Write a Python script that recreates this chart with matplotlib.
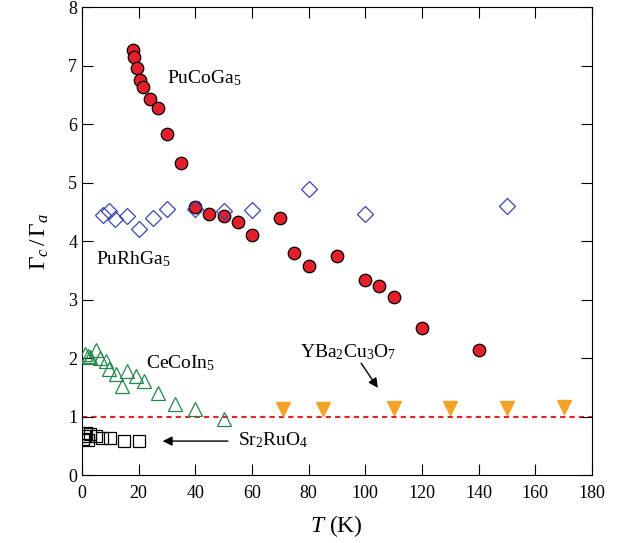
import matplotlib
matplotlib.use("Agg")
import matplotlib.pyplot as plt

plt.rcParams['font.family'] = ['Liberation Serif', 'DejaVu Serif']
plt.rcParams['mathtext.fontset'] = 'custom'
plt.rcParams['mathtext.rm'] = 'Liberation Serif'
plt.rcParams['mathtext.it'] = 'Liberation Serif:italic'

# PuCoGa5
pucoga_T = [18, 18.5, 19.5, 20.5, 21.5, 24, 27, 30, 35, 40, 45, 50, 55, 60,
            70, 75, 80, 90, 100, 105, 110, 120, 140]
pucoga_r = [7.27, 7.15, 6.95, 6.75, 6.63, 6.43, 6.28, 5.83, 5.33, 4.58, 4.46,
            4.42, 4.33, 4.11, 4.40, 3.80, 3.58, 3.75, 3.33, 3.23, 3.04, 2.51, 2.14]

# PuRhGa5
purhga_T = [7.5, 9.5, 11.5, 16, 20, 25, 30, 40, 50, 60, 80, 100, 150]
purhga_r = [4.45, 4.52, 4.37, 4.42, 4.20, 4.40, 4.55, 4.54, 4.51, 4.53,
            4.89, 4.46, 4.60]

# CeCoIn5
cecoin_T = [1, 2, 3, 5, 6.5, 8.5, 9.5, 12, 14, 16, 19, 22, 27, 33, 40, 50]
cecoin_r = [2.07, 2.04, 2.02, 2.14, 2.0, 1.95, 1.82, 1.73, 1.52, 1.78, 1.70,
            1.61, 1.40, 1.22, 1.12, 0.95]

# Sr2RuO4
srruo_T = [0.5, 1, 1.5, 2, 3, 5, 7, 10, 15, 20]
srruo_r = [0.62, 0.66, 0.72, 0.60, 0.70, 0.66, 0.64, 0.64, 0.59, 0.58]

# YBa2Cu3O7
ybco_T = [71, 85, 110, 130, 150, 170]
ybco_r = [1.13, 1.12, 1.15, 1.14, 1.15, 1.16]

fig = plt.figure(figsize=(6.23, 5.43), dpi=100)
ax = fig.add_axes([0.1316, 0.1252, 0.8184, 0.8619])

ax.plot([0, 180], [1, 1], color='#e3242b', linestyle=(0, (2.5, 2)), lw=1.5, zorder=1)

ax.plot(purhga_T, purhga_r, 'D', ms=8.5, mfc='none', mec='#3b44b0', mew=0.9, zorder=3)
ax.plot(pucoga_T, pucoga_r, 'o', ms=9, mfc='#e3202a', mec='black', mew=0.9, zorder=2)
ax.plot(cecoin_T, cecoin_r, '^', ms=9.5, mfc='none', mec='#23874a', mew=0.9, zorder=3)
ax.plot(srruo_T, srruo_r, 's', ms=8.5, mfc='none', mec='black', mew=0.9, zorder=3)
ax.plot(ybco_T, ybco_r, 'v', ms=9.5, mfc='#f5a328', mec='#f5a328', zorder=3)

ax.text(30, 6.7, 'PuCoGa$_5$', fontsize=14)
ax.text(5, 3.6, 'PuRhGa$_5$', fontsize=14)
ax.text(22.5, 1.83, 'CeCoIn$_5$', fontsize=14)
ax.text(77, 2.02, 'YBa$_2$Cu$_3$O$_7$', fontsize=14)
ax.text(55, 0.5, 'Sr$_2$RuO$_4$', fontsize=14)

ax.annotate('', xy=(27.5, 0.58), xytext=(52.5, 0.58),
            arrowprops=dict(arrowstyle='-|>', color='black', lw=1, mutation_scale=14))
ax.annotate('', xy=(105, 1.45), xytext=(98, 1.95),
            arrowprops=dict(arrowstyle='-|>', color='black', lw=1, mutation_scale=14))

ax.set_xlim(0, 180)
ax.set_ylim(0, 8)
ax.set_xticks(range(0, 181, 20))
ax.set_yticks(range(0, 9))
ax.tick_params(direction='in', top=True, right=True, length=8, labelsize=13)
ax.tick_params(axis='x', pad=7)
ax.set_xlabel('$T$ (K)', fontsize=17, labelpad=8)
ax.set_ylabel('$\\Gamma_c\\,/\\,\\Gamma_a$', fontsize=17, labelpad=12)

fig.savefig('out.png', dpi=100)
